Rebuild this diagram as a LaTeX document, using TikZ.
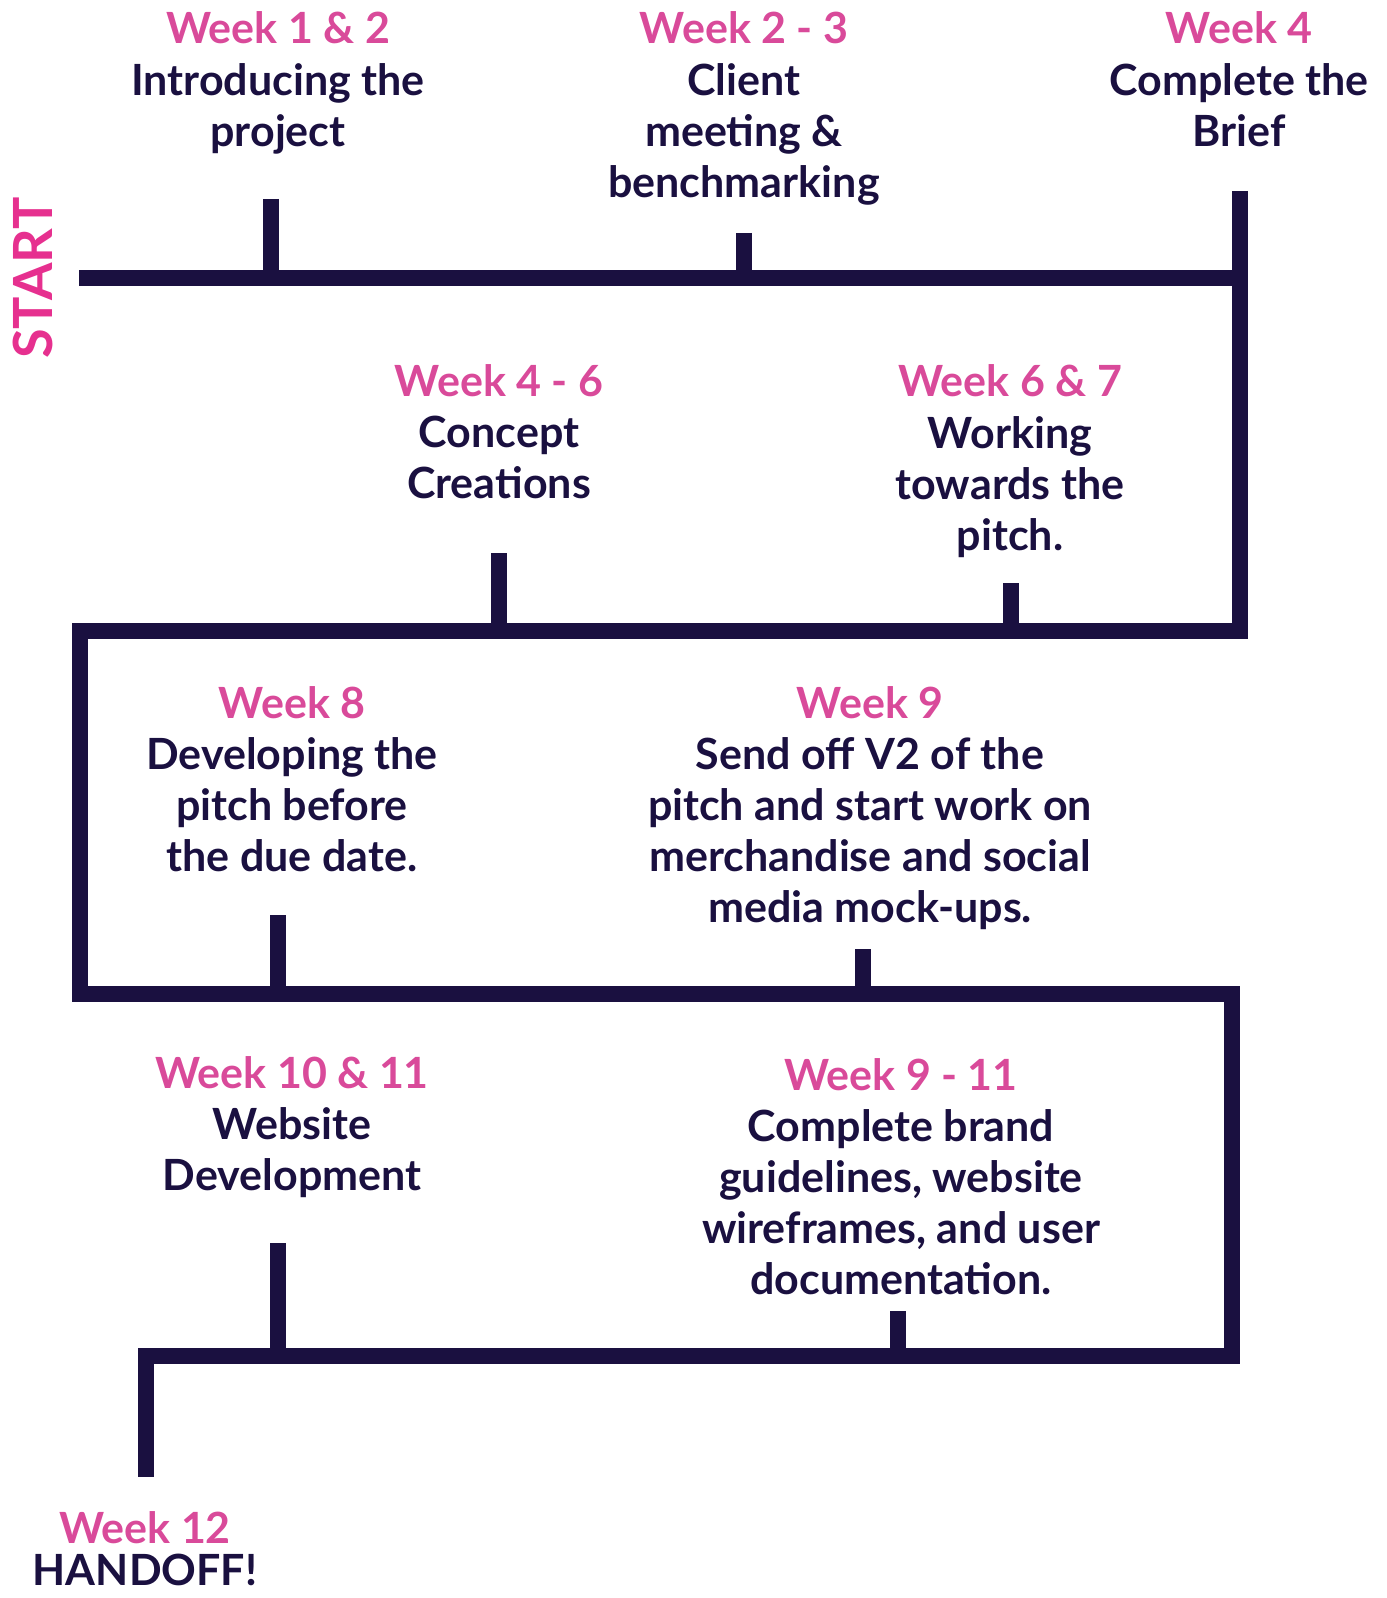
\documentclass[tikz,border=0pt]{standalone}
\usepackage{fontspec}
\setmainfont{Lato}
\usepackage{tikz}
\usetikzlibrary{positioning}

\definecolor{navy}{HTML}{1A1040}
\definecolor{weekpink}{HTML}{D94A9A}
\definecolor{startpink}{HTML}{E6308F}

\tikzset{
  week/.style={font=\fontsize{21.5}{25.5}\selectfont\bfseries, text=weekpink, inner sep=0pt, anchor=base},
  task/.style={font=\fontsize{21.5}{25.5}\selectfont\bfseries, text=navy, inner sep=0pt, align=center},
  timeline/.style={draw=navy, line width=8pt, line join=miter, line cap=butt},
}

\begin{document}
\begin{tikzpicture}[x=0.5pt, y=-0.5pt, node distance=9pt]
    \useasboundingbox (0,0) rectangle (1386,1598);

    % the snake
    \coordinate (s0) at (79,278);
    \coordinate (c0) at (1240,191);
    \coordinate (c1) at (1240,631);
    \coordinate (c2) at (80,631);
    \coordinate (c3) at (80,994);
    \coordinate (c4) at (1232,994);
    \coordinate (c5) at (1232,1356);
    \coordinate (c6) at (146,1356);
    \coordinate (end) at (146,1477);
    \draw[timeline] (s0) -- (c0 |- s0);
    \draw[timeline] (c0) -- (c1) -- (c2) -- (c3) -- (c4) -- (c5) -- (c6) -- (end);

    \node (start) [font=\fontsize{27}{30}\selectfont\bfseries, text=startpink, rotate=90, inner sep=0pt] at (33,278) {START};

    % row 1
    \node (w1) [week] at (278,44) {Week 1 \& 2};
    \node (t1) [task, below=of w1] {Introducing the\\project};
    \node (w2) [week] at (744,44) {Week 2 - 3};
    \node (t2) [task, below=of w2] {Client\\meeting \&\\benchmarking};
    \node (w3) [week] at (1239,44) {Week 4};
    \node (t3) [task, below=of w3] {Complete the\\Brief};
    \coordinate (k1) at (271,199);
    \coordinate (k2) at (744,233);
    \draw[timeline] (k1) -- (k1 |- s0);
    \draw[timeline] (k2) -- (k2 |- s0);

    % row 2
    \node (w4) [week] at (499,397) {Week 4 - 6};
    \node (t4) [task, below=of w4] {Concept\\Creations};
    \node (w5) [week] at (1010,397) {Week 6 \& 7};
    \node (t5) [task, below=of w5] {Working\\towards the\\pitch.};
    \coordinate (k3) at (499,553);
    \coordinate (k4) at (1011,583);
    \draw[timeline] (k3) -- (k3 |- c1);
    \draw[timeline] (k4) -- (k4 |- c1);

    % row 3
    \node (w6) [week] at (292,718) {Week 8};
    \node (t6) [task, below=of w6] {Developing the\\pitch before\\the due date.};
    \node (w7) [week] at (870,718) {Week 9};
    \node (t7) [task, below=of w7] {Send off V2 of the\\pitch and start work on\\merchandise and social\\media mock-ups.};
    \coordinate (k5) at (278,915);
    \coordinate (k6) at (863,949);
    \draw[timeline] (k5) -- (k5 |- c3);
    \draw[timeline] (k6) -- (k6 |- c3);

    % row 4
    \node (w8) [week] at (292,1088) {Week 10 \& 11};
    \node (t8) [task, below=of w8] {Website\\Development};
    \node (w9) [week] at (901,1090) {Week 9 - 11};
    \node (t9) [task, below=of w9] {Complete brand\\guidelines, website\\wireframes, and user\\documentation.};
    \coordinate (k7) at (278,1243);
    \coordinate (k8) at (898,1311);
    \draw[timeline] (k7) -- (k7 |- c5);
    \draw[timeline] (k8) -- (k8 |- c5);

    % finish
    \node (w10) [week] at (145,1543) {Week 12};
    \node (t10) [task, below=5pt of w10] {HANDOFF!};
\end{tikzpicture}
\end{document}
